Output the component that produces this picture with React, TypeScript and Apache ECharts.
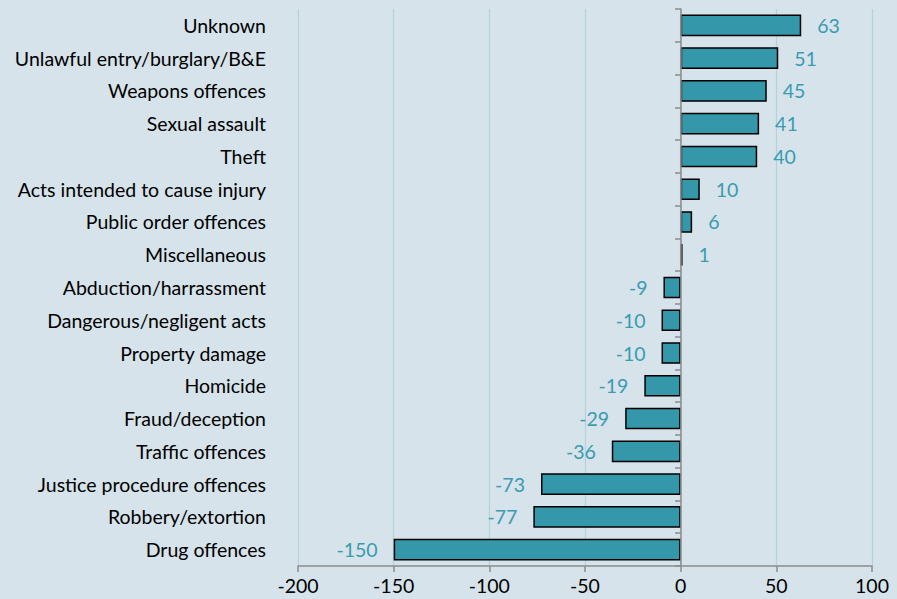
import React, { useEffect, useRef } from "react";
import * as echarts from "echarts";

const categories = [
  "Unknown",
  "Unlawful entry/burglary/B&E",
  "Weapons offences",
  "Sexual assault",
  "Theft",
  "Acts intended to cause injury",
  "Public order offences",
  "Miscellaneous",
  "Abduction/harrassment",
  "Dangerous/negligent acts",
  "Property damage",
  "Homicide",
  "Fraud/deception",
  "Traffic offences",
  "Justice procedure offences",
  "Robbery/extortion",
  "Drug offences",
];
const values = [63, 51, 45, 41, 40, 10, 6, 1, -9, -10, -10, -19, -29, -36, -73, -77, -150];
const xTicks = { min: -200, max: 100, interval: 50 };

const FONT = "Lato, 'Open Sans', sans-serif";
const FS = 19.5;

export default function App() {
  const ref = useRef<HTMLDivElement>(null);
  useEffect(() => {
    document.body.style.margin = "0";
    const chart = echarts.init(ref.current!, undefined, { renderer: "svg" });
    chart.setOption({
      animation: false,
      backgroundColor: "#d6e3ea",
      textStyle: { fontFamily: FONT },
      grid: {
        left: 298,
        right: 25,
        top: 9,
        bottom: 33,
        containLabel: false,
        outerBoundsMode: "none",
      },
      xAxis: {
        type: "value",
        min: xTicks.min,
        max: xTicks.max,
        interval: xTicks.interval,
        axisLine: { show: true, onZero: false, lineStyle: { color: "#8c8c8c", width: 1.5 } },
        axisTick: { show: true, length: 6, lineStyle: { color: "#8c8c8c", width: 1.5 } },
        axisLabel: { color: "#000", fontSize: FS, fontFamily: FONT, margin: 9 },
        splitLine: { show: true, lineStyle: { color: "#b3d2de", width: 1.2 } },
      },
      yAxis: [
        {
          type: "category",
          data: categories,
          inverse: true,
          position: "left",
          axisLine: { show: false },
          axisTick: { show: false },
          axisLabel: { color: "#000", fontSize: FS, fontFamily: FONT, margin: 32 },
          splitLine: { show: false },
        },
        {
          type: "category",
          data: categories,
          inverse: true,
          position: "left",
          offset: -383,
          z: 5,
          axisLine: { show: true, onZero: false, lineStyle: { color: "#8c8c8c", width: 1.5 } },
          axisTick: { show: true, length: 6, lineStyle: { color: "#8c8c8c", width: 1.5 } },
          axisLabel: { show: false },
          splitLine: { show: false },
        },
      ],
      series: [
        {
          type: "bar",
          yAxisIndex: 0,
          z: 2,
          barCategoryGap: "34%",
          data: values.map((v) => ({
            value: v,
            label: { position: v >= 0 ? "right" : "left" },
          })),
          itemStyle: { color: "#3497aa", borderColor: "#000", borderWidth: 1.5 },
          label: {
            show: true,
            distance: 16,
            color: "#3a9bb1",
            fontSize: FS,
            fontFamily: FONT,
          },
        },
      ],
    });
    return () => chart.dispose();
  }, []);
  return <div ref={ref} style={{ width: 897, height: 599 }} />;
}
